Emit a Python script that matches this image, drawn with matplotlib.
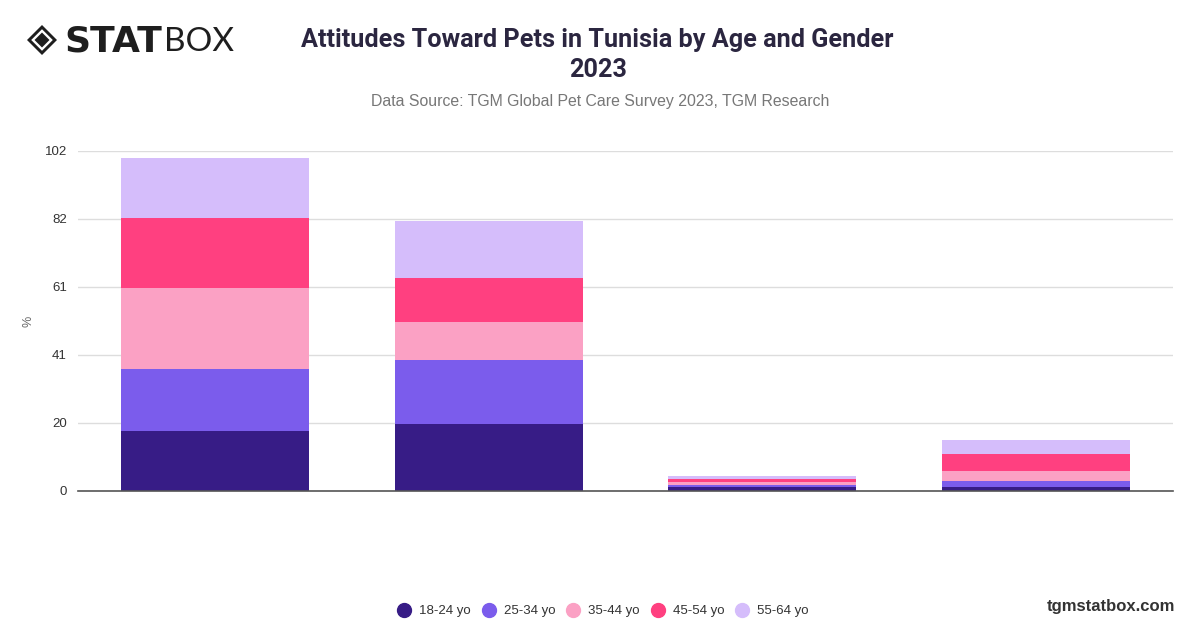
import matplotlib
matplotlib.use("Agg")
import matplotlib.pyplot as plt
from matplotlib.patches import Polygon
from matplotlib.lines import Line2D
import numpy as np

# values (stacked, %)
groups = ["Group 1", "Group 2", "Group 3", "Group 4"]
age_18_24 = [18.0, 20.1, 1.2, 1.2]
age_25_34 = [18.7, 19.1, 0.6, 1.7]
age_35_44 = [24.2, 11.4, 0.8, 3.2]
age_45_54 = [21.0, 13.4, 0.9, 5.0]
age_55_64 = [18.0, 17.1, 0.9, 4.1]
series_labels = ["18-24 yo", "25-34 yo", "35-44 yo", "45-54 yo", "55-64 yo"]
colors = ["#371c86", "#7b5cec", "#fba1c4", "#ff4080", "#d5bdfb"]
y_ticks = [0, 20.4, 40.8, 61.2, 81.6, 102]
y_tick_labels = ["0", "20", "41", "61", "82", "102"]

plt.rcParams['font.family'] = ['Liberation Sans', 'DejaVu Sans']

fig = plt.figure(figsize=(12, 6.28), dpi=100)
ax = fig.add_axes([0.065, 0.2182, 0.9125, 0.5414])

x = np.arange(len(groups))
bottom = np.zeros(len(groups))
for vals, lab, col in zip([age_18_24, age_25_34, age_35_44, age_45_54, age_55_64],
                          series_labels, colors):
    ax.bar(x, vals, width=0.687, bottom=bottom, color=col, label=lab, zorder=3)
    bottom += np.array(vals)

ax.set_xlim(-0.5, 3.5)
ax.set_ylim(0, 102)
ax.set_yticks(y_ticks)
ax.set_yticklabels(y_tick_labels, fontsize=9.5, color="#333333")
ax.set_xticks([])
ax.tick_params(axis='y', length=0, pad=8)
ax.grid(axis='y', color="#dddddd", linewidth=1, zorder=0)
for s in ['top', 'right', 'left']:
    ax.spines[s].set_visible(False)
ax.spines['bottom'].set_color("#555555")
ax.spines['bottom'].set_linewidth(1.2)
ax.spines['bottom'].set_zorder(4)
fig.text(28 / 1200, 1 - 321 / 628, "%", rotation=90, ha='center', va='center',
         fontsize=9, color="#666666")

# title block
fig.text(0.498, 0.936, "Attitudes Toward Pets in Tunisia by Age and Gender",
         ha='center', va='center', fontsize=18.2, fontweight='bold',
         color="#2b2640", family=['Roboto', 'DejaVu Sans'])
fig.text(0.498, 0.888, "2023", ha='center', va='center', fontsize=18.2,
         fontweight='bold', color="#2b2640", family=['Roboto', 'DejaVu Sans'])
fig.text(0.5, 0.838, "Data Source: TGM Global Pet Care Survey 2023, TGM Research",
         ha='center', va='center', fontsize=11.4, color="#777777")

# logo
cx, cy = 42 / 1200, 1 - 40 / 628
rx, ry = 15 / 1200, 15 / 628
outer = Polygon([(cx - rx, cy), (cx, cy + ry), (cx + rx, cy), (cx, cy - ry)],
                closed=True, transform=fig.transFigure, facecolor="#1e1e1e",
                edgecolor="none")
mid = Polygon([(cx - rx * 0.72, cy), (cx, cy + ry * 0.72), (cx + rx * 0.72, cy),
               (cx, cy - ry * 0.72)], closed=True, transform=fig.transFigure,
              facecolor="white", edgecolor="none")
inner = Polygon([(cx - rx * 0.5, cy), (cx, cy + ry * 0.5), (cx + rx * 0.5, cy),
                 (cx, cy - ry * 0.5)], closed=True, transform=fig.transFigure,
                facecolor="#1e1e1e", edgecolor="none")
fig.patches.extend([outer, mid, inner])
stat = fig.text(64 / 1200, cy - 2 / 628, "STAT", ha='left', va='center', fontsize=26,
                fontweight='heavy', color="#1e1e1e", family=['DejaVu Sans'])
fig.canvas.draw()
bb = stat.get_window_extent()
fig.text(bb.x1 / 1200 + 2 / 1200, cy - 2 / 628, "BOX", ha='left', va='center',
         fontsize=24, fontweight='normal', color="#1e1e1e", family=['Lato', 'DejaVu Sans'])

# legend
handles = [Line2D([0], [0], marker='o', linestyle='none', markersize=10,
                  markerfacecolor=c, markeredgecolor=c) for c in colors]
fig.legend(handles, series_labels, loc='center', bbox_to_anchor=(0.5, 0.027),
           ncol=5, frameon=False, fontsize=9.5, handletextpad=0.15,
           columnspacing=0.35, labelcolor="#333333")

fig.text(0.979, 0.035, "tgmstatbox.com", ha='right', va='center', fontsize=12,
         fontweight='bold', color="#333333")

fig.savefig("out.png", dpi=100)
